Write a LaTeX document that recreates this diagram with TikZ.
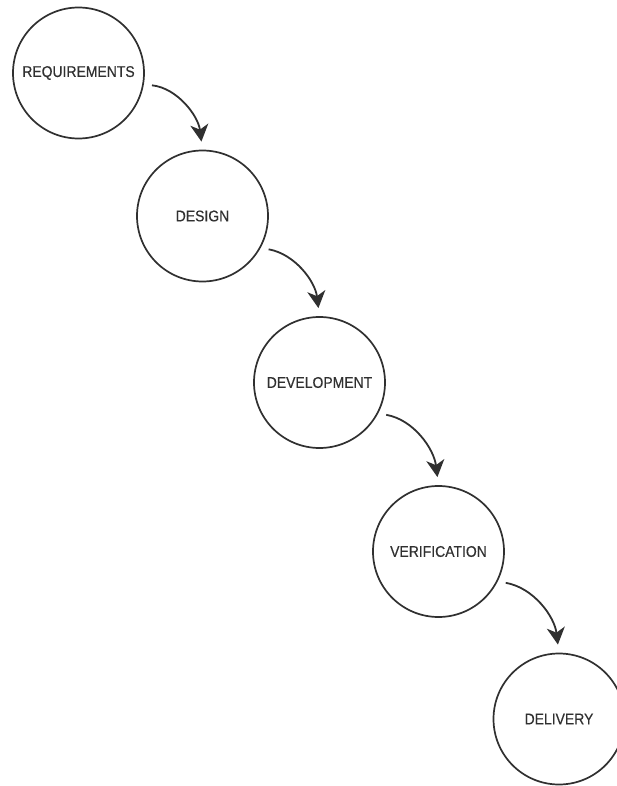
\documentclass[tikz,border=0pt]{standalone}
\usepackage{fontspec}
\setmainfont{Liberation Sans}
\newfontfamily\phasefont[FakeStretch=0.9, FakeBold=0.4]{Liberation Sans}
\usetikzlibrary{arrows.meta}

\definecolor{ink}{HTML}{303030}

\tikzset{
  phase/.style={circle, draw=ink, line width=1.7pt, minimum size=131pt,
    inner sep=0pt, outer sep=0pt, text=ink,
    font=\phasefont\fontsize{15.5pt}{17pt}\selectfont},
  flow/.style={draw=ink, line width=1.8pt,
    -{Stealth[length=17pt, width=18pt, inset=5pt]},
    shorten <=9pt, shorten >=9pt}
}

\begin{document}
\begin{tikzpicture}[x=1pt, y=1pt]
  \useasboundingbox (0,0) rectangle (616,-786);

  % waterfall phases
  \node[phase] (req) at (78.5,-73)   {REQUIREMENTS};
  \node[phase] (des) at (202.5,-216) {DESIGN};
  \node[phase] (dev) at (319.5,-382.5) {DEVELOPMENT};
  \node[phase] (ver) at (438.5,-551.5) {VERIFICATION};
  \node[phase] (del) at (559,-719)   {DELIVERY};

  % hand-offs between phases
  \draw[flow] (req.-10) to[out=-6, in=97] (des.north);
  \draw[flow] (des.-29) to[out=-10, in=97] (dev.north);
  \draw[flow] (dev.-28) to[out=-10, in=97] (ver.north);
  \draw[flow] (ver.-27) to[out=-10, in=97] (del.north);
\end{tikzpicture}
\end{document}
